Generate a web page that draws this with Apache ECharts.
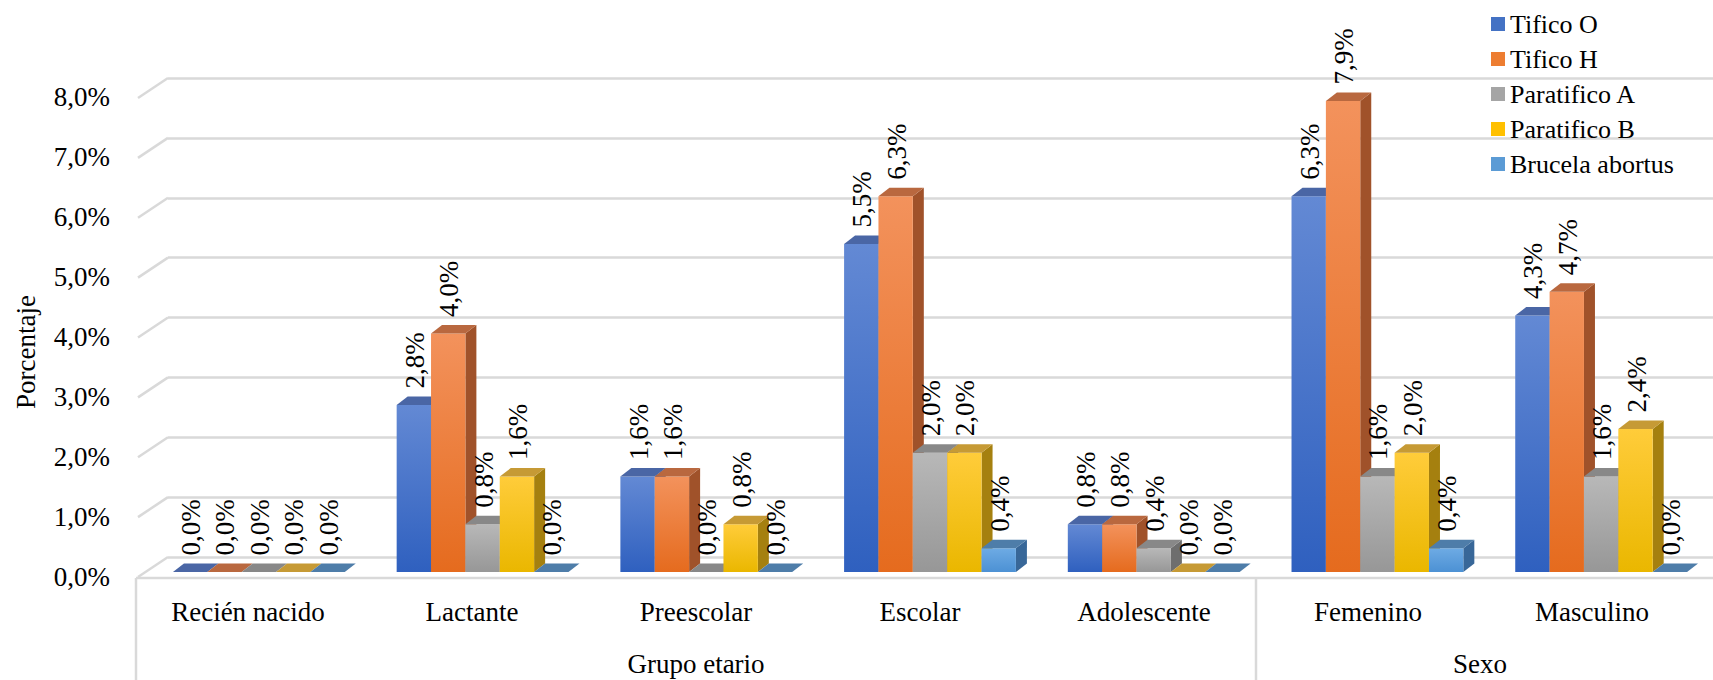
<!DOCTYPE html>
<html><head><meta charset="utf-8">
<script src="https://cdn.jsdelivr.net/npm/echarts@6/dist/echarts.min.js"></script>
<style>html,body{margin:0;padding:0;background:#fff}#c{width:1713px;height:680px}</style>
</head><body><div id="c"></div>
<script>
// ---- data ----
const categories = ['Recién nacido','Lactante','Preescolar','Escolar','Adolescente','Femenino','Masculino'];
const groupNames = ['Grupo etario','Sexo'];
const groupStarts = [0,5];
const groupEnds = [4,6];
const seriesNames = ['Tifico O','Tifico H','Paratifico A','Paratifico B','Brucela abortus'];
const tificoO     = [0.0,2.8,1.6,5.5,0.8,6.3,4.3];
const tificoH     = [0.0,4.0,1.6,6.3,0.8,7.9,4.7];
const paratificoA = [0.0,0.8,0.0,2.0,0.4,1.6,1.6];
const paratificoB = [0.0,1.6,0.8,2.0,0.0,2.0,2.4];
const brucela     = [0.0,0.0,0.0,0.4,0.0,0.4,0.0];
const yTicks = [0,1,2,3,4,5,6,7,8];
const yAxisTitle = 'Porcentaje';

// ---- styles ----
const FONT = "'Liberation Serif', 'Times New Roman', serif";
const styles = [
  {legend:'#4472C4', top:'#4A66A5', side:'#2F5290', g0:'#6389D4', g1:'#2F60BF'},
  {legend:'#ED7D31', top:'#B9683F', side:'#A0522A', g0:'#F3925C', g1:'#E56B1E'},
  {legend:'#A5A5A5', top:'#888888', side:'#6E6E6E', g0:'#B8B8B8', g1:'#979797'},
  {legend:'#FFC000', top:'#C69A35', side:'#A5800F', g0:'#FFCC3A', g1:'#EAB700'},
  {legend:'#5B9BD5', top:'#4E7DA9', side:'#386798', g0:'#6EABE4', g1:'#4C91D4'}
];
const seriesData = [tificoO, tificoH, paratificoA, paratificoB, brucela];
const fmt = v => v.toFixed(1).replace('.', ',') + '%';
const DX = 11, DY = 8.5;

function makeBarRender(s){
  const st = styles[s];
  return function(params, api){
    const cat = api.value(0), v = api.value(1);
    const base = api.coord([cat, 0]);
    const tp = api.coord([cat, v]);
    const band = api.size([1, 0])[0];
    const bw = band * 0.768 / 5;
    const x0 = base[0] - 2.5 * bw + s * bw, x1 = x0 + bw;
    const yb = base[1], yt = tp[1];
    const ch = [];
    if (yb - yt > 0.5) {
      ch.push({type:'polygon', shape:{points:[[x1,yt],[x1+DX,yt-DY],[x1+DX,yb-DY],[x1,yb]]}, style:{fill:st.side}});
      ch.push({type:'rect', shape:{x:x0, y:yt, width:bw, height:yb-yt},
        style:{fill:new echarts.graphic.LinearGradient(0,0,0,1,[{offset:0,color:st.g0},{offset:1,color:st.g1}])}});
    }
    ch.push({type:'polygon', shape:{points:[[x0,yt],[x1,yt],[x1+DX,yt-DY],[x0+DX,yt-DY]]}, style:{fill:st.top}});
    ch.push({type:'text', x:(x0+x1)/2 + 1, y:yt - DY - 8, rotation:Math.PI/2,
      style:{text:fmt(v), align:'left', verticalAlign:'middle', fill:'#000', fontFamily:FONT, fontSize:27}});
    return {type:'group', children:ch};
  };
}

const barSeries = seriesNames.map((name, s) => ({
  type:'custom', name, xAxisIndex:0, yAxisIndex:0,
  itemStyle:{color:styles[s].legend},
  renderItem: makeBarRender(s),
  data: seriesData[s].map((v, i) => [i, v])
}));

const chart = echarts.init(document.getElementById('c'), null, {renderer:'svg'});
chart.setOption({
  animation:false,
  backgroundColor:'#fff',
  textStyle:{fontFamily:FONT},
  legend:{
    data:seriesNames, orient:'vertical', left:1486, top:6, icon:'rect',
    itemWidth:14, itemHeight:14, itemGap:9,
    textStyle:{fontFamily:FONT, fontSize:26, lineHeight:26, color:'#000'}
  },
  grid:[
    {left:147, right:-2, top:95, bottom:108},   // bars plane
    {left:168, right:0, top:78, bottom:123},    // back wall
    {left:136, right:9, top:97, bottom:103}     // front / table
  ],
  xAxis:[
    {gridIndex:0, type:'category', data:categories, show:false},
    {gridIndex:1, type:'value', min:0, max:1, show:false},
    {gridIndex:2, type:'category', data:categories,
      axisLine:{show:false}, axisTick:{show:false},
      axisLabel:{fontFamily:FONT, fontSize:27, color:'#000', margin:21, interval:0}}
  ],
  yAxis:[
    {gridIndex:0, type:'value', min:0, max:8, show:false},
    {gridIndex:1, type:'value', min:0, max:8, interval:1,
      axisLine:{show:false}, axisTick:{show:false}, axisLabel:{show:false},
      splitLine:{show:true, lineStyle:{color:'#d9d9d9', width:2.5}}},
    {gridIndex:2, type:'value', min:0, max:8, interval:1,
      axisLine:{show:false}, axisTick:{show:false}, splitLine:{show:false},
      axisLabel:{formatter:fmt, fontFamily:FONT, fontSize:27, color:'#000', margin:26}}
  ],
  graphic:[
    {type:'text', x:26, y:352, rotation:Math.PI/2,
      style:{text:yAxisTitle, align:'center', verticalAlign:'middle', fontFamily:FONT, fontSize:27, fill:'#000'}}
  ],
  series:[
    // diagonal side-wall ticks
    {type:'custom', xAxisIndex:1, yAxisIndex:1, silent:true, legendHoverLink:false,
      renderItem:function(params, api){
        const p = api.coord([0, api.value(0)]);
        return {type:'line', shape:{x1:p[0]-30, y1:p[1]+20, x2:p[0], y2:p[1]},
          style:{stroke:'#d9d9d9', lineWidth:2.5}};
      },
      data: yTicks.map(v => [v])},
    // table lines and group labels
    {type:'custom', xAxisIndex:2, yAxisIndex:2, silent:true,
      renderItem:function(params, api){
        const g = params.dataIndex;
        const band = api.size([1,0])[0];
        const ps = api.coord([groupStarts[g], 0]);
        const pe = api.coord([groupEnds[g], 0]);
        const xl = ps[0] - band/2;
        const y0 = ps[1] + 1;
        const ch = [
          {type:'line', shape:{x1:xl, y1:y0, x2:xl, y2:api.getHeight()}, style:{stroke:'#d9d9d9', lineWidth:2.5}},
          {type:'text', x:(ps[0]+pe[0])/2, y:664, style:{text:groupNames[g], align:'center', verticalAlign:'middle', fontFamily:FONT, fontSize:27, fill:'#000'}}
        ];
        if (g === 0) ch.push({type:'line', shape:{x1:xl, y1:y0, x2:api.getWidth(), y2:y0}, style:{stroke:'#d9d9d9', lineWidth:2.5}});
        return {type:'group', children:ch};
      },
      data: groupNames.map((n, i) => [i])}
  ].concat(barSeries)
});
</script>
</body></html>
